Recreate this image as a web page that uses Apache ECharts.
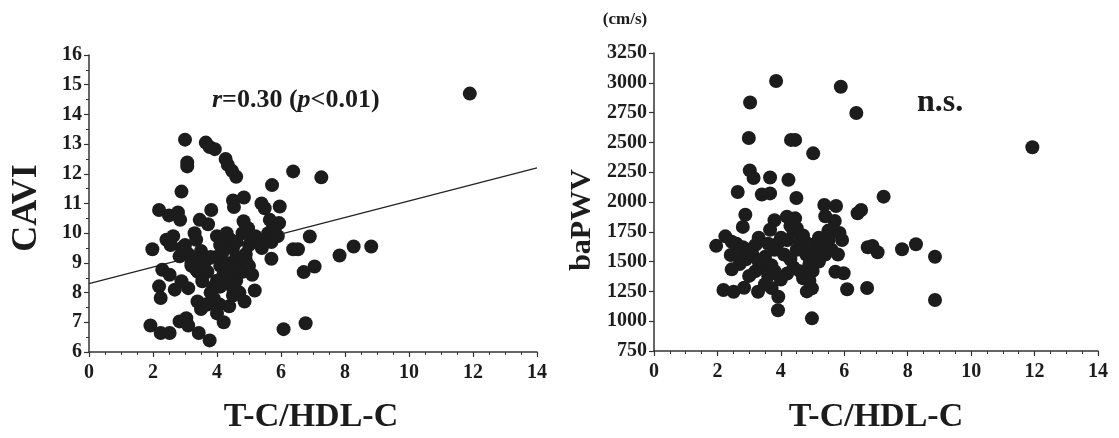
<!DOCTYPE html>
<html>
<head>
<meta charset="utf-8">
<script src="https://cdn.jsdelivr.net/npm/echarts@6/dist/echarts.min.js"></script>
<style>
html,body{margin:0;padding:0;background:#fff;}
#c{width:1119px;height:438px;}
</style>
</head>
<body>
<div id="c"></div>
<script>
// ---- Data ----
const caviTC = [11.9,3.0,3.65,3.77,3.93,3.07,3.07,4.27,4.34,4.47,4.6,2.89,5.72,6.38,7.26,
2.19,2.5,2.78,2.85,3.82,3.46,3.72,4.5,4.84,4.53,5.39,5.49,5.96,4.83,4.97,5.65,5.94,5.75,
1.98,2.42,2.63,2.55,3.3,3.35,3.04,2.83,6.38,6.53,6.9,7.83,8.27,8.82,6.71,7.05,5.7,
2.29,2.52,2.19,2.24,2.68,2.89,3.1,3.54,4.5,4.86,5.18,3.39,1.92,2.24,2.52,2.83,3.04,3.1,3.43,3.77,
4.21,4.0,4.08,4.38,6.08,6.77,
3.6,3.7,3.8,3.5,3.3,3.2,3.4,3.0,2.9,3.1,4.0,4.1,4.2,4.0,4.1,4.3,4.2,4.0,3.9,3.8,3.9,3.7,4.1,4.3,
4.4,4.5,4.6,4.7,4.5,4.8,4.6,4.4,4.9,5.0,5.1,5.2,5.3,5.4,5.5,5.6,5.7,5.8,5.9,4.8,4.9,5.0,5.1,4.7,
4.5,4.3,4.6,3.5,3.6,3.77,3.35,3.2,3.56];
const caviVal = [14.7,13.15,13.05,12.9,12.83,12.38,12.25,12.5,12.3,12.1,11.9,11.4,11.62,12.08,11.88,
10.78,10.6,10.7,10.45,10.78,10.45,10.3,11.1,11.2,10.88,11.0,10.84,10.9,10.4,10.17,10.45,10.34,10.17,
9.46,9.78,9.9,9.6,10.0,9.78,9.33,9.22,9.46,9.46,9.89,9.25,9.55,9.55,8.69,8.88,9.14,
8.77,8.6,8.21,7.82,8.1,8.38,8.15,8.38,8.15,7.7,8.07,7.7,6.89,6.64,6.64,7.03,7.14,6.89,6.64,6.39,
7.0,7.3,7.6,7.54,6.77,6.97,
9.0,8.7,9.2,9.4,9.1,8.9,8.7,9.6,9.5,9.3,9.9,9.6,9.4,9.2,8.9,9.0,8.6,8.4,8.2,8.0,7.8,7.6,8.2,10.0,
9.8,9.5,9.2,9.0,8.8,8.7,8.4,8.3,9.3,9.6,9.8,9.9,9.7,9.5,9.8,10.0,9.7,10.1,9.9,10.0,9.1,8.9,8.6,8.0,
7.9,8.6,9.7,7.45,7.6,9.16,8.77,9.0,9.1];
const caviFitTC = [0, 14];
const caviFitVal = [8.3, 12.2];

const pwvTC = [3.85,5.89,6.38,3.03,2.99,4.32,4.45,5.02,11.93,
3.02,3.14,3.66,4.24,2.64,3.4,3.66,4.49,5.37,5.74,6.42,6.53,7.24,
2.88,4.19,4.45,3.8,3.66,2.8,2.25,1.96,2.45,2.42,2.45,
2.19,2.51,2.84,3.28,3.71,3.92,3.91,4.82,4.98,4.98,5.72,5.98,6.09,6.72,8.86,
5.93,6.74,6.89,7.05,7.82,8.26,8.86,5.4,5.7,5.5,5.85,
2.6,2.8,3.0,3.2,3.1,2.9,2.7,3.3,3.5,3.4,3.2,3.0,3.6,3.7,3.8,3.9,4.0,4.2,4.1,4.3,4.4,4.2,4.0,3.8,
4.5,4.6,4.7,4.8,4.9,4.6,4.7,5.0,5.1,5.2,5.3,5.4,5.5,5.2,5.0,4.9,3.5,2.6,4.4,4.5,4.3,5.6,5.8,3.3,3.6,4.85];
const pwvVal = [3015,2967,2747,2835,2537,2521,2521,2408,2459,
2265,2201,2206,2187,2084,2063,2072,2034,1975,1967,1905,1933,2045,
1893,1877,1863,1847,1767,1791,1712,1632,1667,1555,1435,
1262,1247,1280,1247,1278,1205,1092,1250,1275,1024,1415,1402,1268,1278,1178,
1681,1620,1631,1578,1603,1645,1541,1880,1840,1760,1740,
1650,1620,1600,1640,1560,1520,1480,1500,1540,1450,1420,1380,1380,1470,1600,1650,1700,1680,1560,1520,1450,1400,1350,1420,
1600,1660,1720,1560,1480,1420,1360,1640,1560,1500,1620,1560,1680,1700,1420,1340,1310,1560,1750,1780,1800,1600,1560,1700,1650,1650];

const xTickValues = [0,2,4,6,8,10,12,14];

// ---- Build ----
const zip = (a, b) => a.map((v, i) => [v, b[i]]);
const FONT = '"Liberation Serif", "Times New Roman", serif';
const INK = '#1c1c1c';
const plain = v => String(v);

function xAxisCfg(idx) {
  return {
    gridIndex: idx, type: 'value', min: xTickValues[0], max: xTickValues[xTickValues.length-1], interval: 2,
    axisLine: {show: true, onZero: false, lineStyle: {color: '#333', width: 1.5}},
    axisTick: {show: true, inside: false, length: 5, lineStyle: {color: '#333', width: 1.2}},
    minorTick: {show: true, splitNumber: 4, length: 3, lineStyle: {color: '#333', width: 1}},
    splitLine: {show: false}, minorSplitLine: {show: false},
    axisLabel: {color: INK, fontFamily: FONT, fontWeight: 'bold', fontSize: 20, margin: 11, formatter: plain}
  };
}
function yAxisCfg(idx, min, max, interval, minor) {
  return {
    gridIndex: idx, type: 'value', min: min, max: max, interval: interval,
    axisLine: {show: true, onZero: false, lineStyle: {color: '#333', width: 1.5}},
    axisTick: {show: true, inside: false, length: 5, lineStyle: {color: '#333', width: 1.2}},
    minorTick: {show: minor, splitNumber: 2, length: 3, lineStyle: {color: '#333', width: 1}},
    splitLine: {show: false}, minorSplitLine: {show: false},
    axisLabel: {color: INK, fontFamily: FONT, fontWeight: 'bold', fontSize: 20, margin: 7, formatter: plain}
  };
}

const chart = echarts.init(document.getElementById('c'), null, {renderer: 'canvas'});
chart.setOption({
  backgroundColor: '#ffffff',
  animation: false,
  grid: [
    {left: 89, top: 55, width: 448, height: 297},
    {left: 654, top: 53, width: 444, height: 298}
  ],
  xAxis: [xAxisCfg(0), xAxisCfg(1)],
  yAxis: [yAxisCfg(0, 6, 16, 1, true), yAxisCfg(1, 750, 3250, 250, false)],
  series: [
    {type: 'line', xAxisIndex: 0, yAxisIndex: 0, data: zip(caviFitTC, caviFitVal),
     showSymbol: false, symbol: 'none', lineStyle: {color: '#222', width: 1.2}, z: 1},
    {type: 'scatter', xAxisIndex: 0, yAxisIndex: 0, data: zip(caviTC, caviVal),
     symbol: 'circle', symbolSize: 14, itemStyle: {color: INK, opacity: 1}, z: 2},
    {type: 'scatter', xAxisIndex: 1, yAxisIndex: 1, data: zip(pwvTC, pwvVal),
     symbol: 'circle', symbolSize: 14, itemStyle: {color: INK, opacity: 1}, z: 2}
  ],
  graphic: [
    {type: 'text', x: 27, y: 208, rotation: Math.PI/2,
     style: {text: 'CAVI', fill: INK, font: 'bold 36px ' + FONT, textAlign: 'center', textVerticalAlign: 'middle'}},
    {type: 'text', x: 582, y: 220, rotation: Math.PI/2,
     style: {text: 'baPWV', fill: INK, font: 'bold 30px ' + FONT, textAlign: 'center', textVerticalAlign: 'middle'}},
    {type: 'text', x: 625, y: 20,
     style: {text: '(cm/s)', fill: INK, font: 'bold 17px ' + FONT, textAlign: 'center', textVerticalAlign: 'middle'}},
    {type: 'text', x: 311, y: 417,
     style: {text: 'T-C/HDL-C', fill: INK, font: 'bold 34px ' + FONT, textAlign: 'center', textVerticalAlign: 'middle'}},
    {type: 'text', x: 876, y: 417,
     style: {text: 'T-C/HDL-C', fill: INK, font: 'bold 34px ' + FONT, textAlign: 'center', textVerticalAlign: 'middle'}},
    {type: 'text', x: 212, y: 100,
     style: {text: '{i|r}=0.30 ({i|p}<0.01)', fill: INK, fontFamily: FONT, fontWeight: 'bold', fontSize: 26,
       textAlign: 'left', textVerticalAlign: 'middle',
       rich: {i: {fontStyle: 'italic', fontWeight: 'bold', fontFamily: FONT, fontSize: 26, fill: INK}}}},
    {type: 'text', x: 940, y: 103,
     style: {text: 'n.s.', fill: INK, font: 'bold 32px ' + FONT, textAlign: 'center', textVerticalAlign: 'middle'}}
  ]
});
</script>
</body>
</html>
